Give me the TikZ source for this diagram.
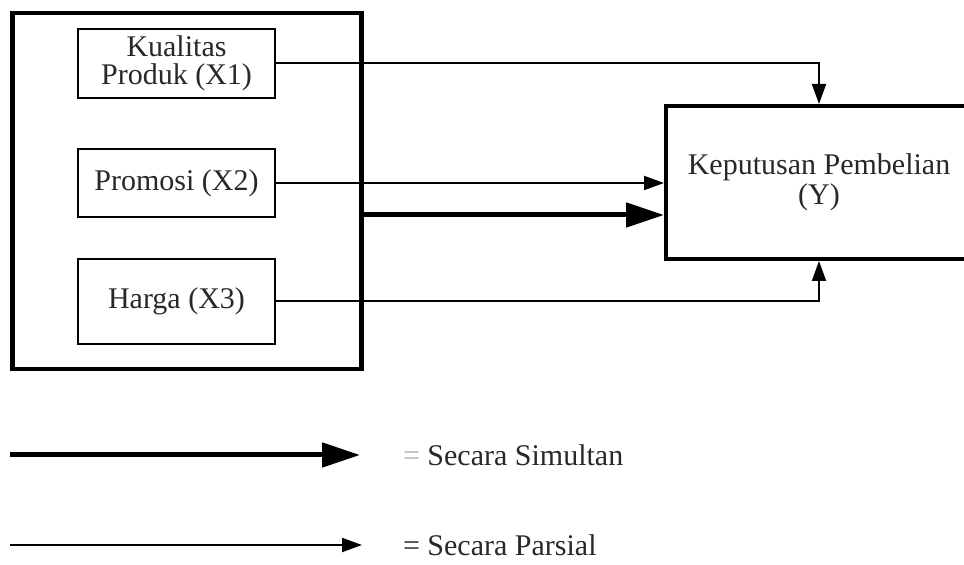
\documentclass[tikz,border=0pt]{standalone}
\usepackage{fontspec}
\setmainfont{Liberation Serif}
\usetikzlibrary{arrows.meta, positioning}
\definecolor{txtgray}{RGB}{40, 40, 40}

\begin{document}
\begin{tikzpicture}[x=0.5pt, y=-0.5pt,
    varbox/.style={draw, line width=1pt, minimum width=98.5pt, inner sep=2pt,
        align=center, text=txtgray, font=\fontsize{15}{14}\selectfont},
    groupbox/.style={draw, line width=2.4pt, minimum width=174.5pt, minimum height=178pt},
    resultbox/.style={draw, line width=2pt, minimum width=153pt, minimum height=76.5pt,
        align=center, text=txtgray, font=\fontsize{15}{15}\selectfont},
    parsial/.style={line width=1pt, -{Triangle[length=10pt, width=7pt]}},
    simultan/.style={line width=2.5pt, -{Triangle[length=19pt, width=12pt]}},
    legtext/.style={anchor=west, text=txtgray, font=\fontsize{15}{15}\selectfont}]
\useasboundingbox (0,0) rectangle (964,565);
\clip (0,0) rectangle (964,565);

% Independent variables
\node[groupbox] (grp) at (187,191) {};
\node[varbox, minimum height=34.5pt] (x1) at (176.5,63.5) {Kualitas\\Produk (X1)};
\node[varbox, minimum height=34pt] (x2) at (176.5,183) {Promosi (X2)};
\node[varbox, minimum height=42.5pt] (x3) at (176.5,301.5) {Harga (X3)};

% Dependent variable
\node[resultbox] (y) at (819,182.5) {Keputusan Pembelian\\(Y)};

% Partial effects
\draw[parsial] (x1.east) -| (y.north);
\draw[parsial] (x2.east) -- (x2.east -| y.west);
\draw[parsial] (x3.east) -| (y.south);

% Simultaneous effect
\coordinate (sim) at (500,215);
\draw[simultan] (grp.east |- sim) -- (y.west |- sim);

% Legend
\coordinate (l1a) at (10,455);
\coordinate (l1b) at (360,455);
\coordinate (l2a) at (10,545);
\coordinate (l2b) at (362,545);
\draw[simultan] (l1a) -- (l1b);
\draw[parsial] (l2a) -- (l2b);
\node[legtext] (t1) at (396,455) {\textcolor{gray!60}{=} Secara Simultan};
\node[legtext] (t2) at (396,545) {= Secara Parsial};
\end{tikzpicture}
\end{document}
